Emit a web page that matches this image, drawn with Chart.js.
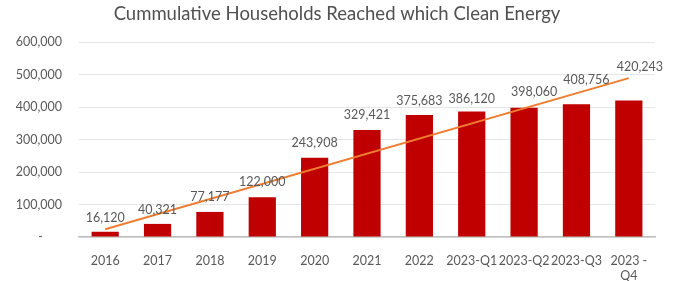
<!DOCTYPE html>
<html>
<head>
<meta charset="utf-8">
<script src="https://cdn.jsdelivr.net/npm/chart.js@4"></script>
<style>
  html, body { margin: 0; padding: 0; background: #fff; }
  #wrap { width: 674px; height: 281px; }
</style>
</head>
<body>
<div id="wrap"><canvas id="graf"></canvas></div>
<script>
// dados
const titulo = 'Cummulative Households Reached which Clean Energy'
const categorias = ['2016', '2017', '2018', '2019', '2020', '2021', '2022',
  '2023-Q1', '2023-Q2', '2023-Q3', ['2023 -', 'Q4']]
const domicilios = [16120, 40321, 77177, 122000, 243908, 329421, 375683,
  386120, 398060, 408756, 420243]
// linha de tendencia: so as pontas (2016 e 2023-Q4)
const tendencia = [23600, null, null, null, null, null, null, null, null, null, 488800]
const yTicks = [0, 100000, 200000, 300000, 400000, 500000, 600000]

// deslocamento dos rotulos (alguns foram empurrados no original)
const rotuloDx = [0, 0, 0, 0, 0, 0, 0, 0, 10, 10, 11]
const rotuloSobe = [14, 14, 15, 15, 15, 15, 14, 13, 16, 24, 33]

const cinzaTexto = '#595959'
const fonte = 'Lato, "Open Sans", sans-serif'

const rotulos = {
  id: 'rotulos',
  afterDatasetsDraw(chart) {
    const ctx = chart.ctx
    const meta = chart.getDatasetMeta(0)
    ctx.save()
    ctx.font = '12.5px ' + fonte
    ctx.fillStyle = cinzaTexto
    ctx.textAlign = 'center'
    ctx.textBaseline = 'middle'
    meta.data.forEach((bar, i) => {
      ctx.fillText(domicilios[i].toLocaleString('en-US'), bar.x + rotuloDx[i], bar.y - rotuloSobe[i])
    })
    ctx.restore()
  }
}

// titulo centrado na largura toda do canvas
const tituloPlugin = {
  id: 'tituloCentro',
  afterDraw(chart) {
    const ctx = chart.ctx
    ctx.save()
    ctx.font = '18.5px ' + fonte
    ctx.fillStyle = '#505050'
    ctx.textAlign = 'center'
    ctx.textBaseline = 'middle'
    ctx.fillText(titulo, chart.width / 2, 14)
    ctx.restore()
  }
}

let ctx_graf = document.getElementById('graf')

let grafico = new Chart(ctx_graf, {
  data: {
    labels: categorias,
    datasets: [{
      type: 'bar',
      label: 'Households',
      data: domicilios,
      backgroundColor: '#C00000',
      barPercentage: 0.52,
      categoryPercentage: 1,
      order: 1
    }, {
      type: 'line',
      label: 'Trend',
      data: tendencia,
      spanGaps: true,
      borderColor: '#ED7D31',
      borderWidth: 2,
      pointRadius: 0,
      order: 0
    }]
  },
  options: {
    responsive: true,
    maintainAspectRatio: false,
    animation: false,
    layout: { padding: { left: 0, right: 19, top: 42, bottom: 0 } },
    plugins: {
      legend: { display: false },
      tooltip: { enabled: false },
      title: { display: false }
    },
    scales: {
      x: {
        grid: { display: false },
        border: { display: true, color: '#BFBFBF', width: 1.5 },
        ticks: {
          color: cinzaTexto,
          font: { family: fonte, size: 12.5, lineHeight: 1.25 },
          padding: 8,
          maxRotation: 0,
          autoSkip: false
        },
        afterFit: (s) => { s.height = 44 }
      },
      y: {
        min: 0,
        max: 600000,
        afterBuildTicks: (s) => { s.ticks = yTicks.map(v => ({ value: v })) },
        grid: { color: '#E6E6E6', drawTicks: false },
        border: { display: false },
        ticks: {
          color: cinzaTexto,
          font: { family: fonte, size: 12.5 },
          padding: 17,
          callback: (v) => v === 0 ? '-      ' : v.toLocaleString('en-US')
        },
        afterFit: (s) => { s.width = 79 }
      }
    }
  },
  plugins: [rotulos, tituloPlugin]
})
</script>
</body>
</html>
